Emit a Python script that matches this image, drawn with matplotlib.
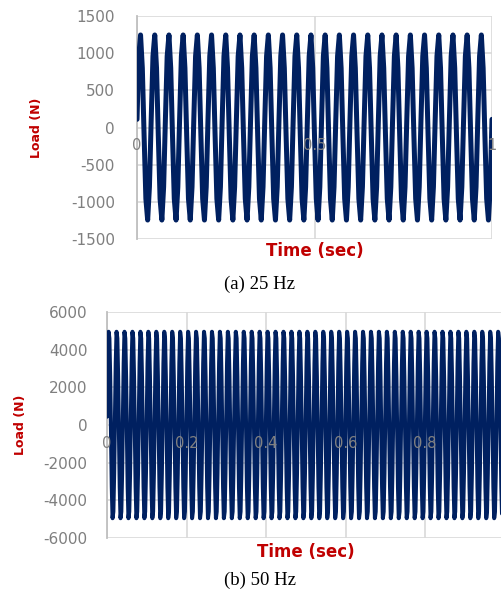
import numpy as np
import matplotlib
matplotlib.use('Agg')
import matplotlib.pyplot as plt

plt.rcParams['axes.unicode_minus'] = False

cycle_25 = [110, 960, 1245, 800, -110, -960, -1245, -800]   # 8 samples / cycle
cycle_50 = [440, 3280, 4950, 4600, 2580, -440, -3280, -4950, -4600, -2580]  # 10 samples / cycle
cycles_25 = 25   # cycles shown in 1 s
cycles_50 = 50

yticks_25 = [-1500, -1000, -500, 0, 500, 1000, 1500]
yticks_50 = [-6000, -4000, -2000, 0, 2000, 4000, 6000]
xticks_25 = [0, 0.5, 1]
xticks_50 = [0, 0.2, 0.4, 0.6, 0.8, 1]
xlabels_25 = ['0', '0.5', '1']
xlabels_50 = ['0', '0.2', '0.4', '0.6', '0.8', '']   # "1" falls off the cropped edge

navy = '#002060'
red = '#c00000'
grid = '#d9d9d9'

def series(cycle, n):
    load = np.tile(cycle, n)
    load = np.append(load, cycle[0])
    t = np.linspace(0, 1, len(load))
    return t, load

fig = plt.figure(figsize=(5.01, 5.92), dpi=100)
W, H = 501, 592

def panel(rect, cycle, n, yticks, xticks, xlabels, lw, ypad, xl_y, caption, cap_y):
    l, t_, r, b = rect
    ax = fig.add_axes([l / W, 1 - b / H, (r - l) / W, (b - t_) / H])
    t, load = series(cycle, n)
    ax.plot(t, load, color=navy, lw=lw, solid_joinstyle='round', solid_capstyle='round', zorder=3)
    ax.set_xlim(0, 1)
    ax.set_ylim(yticks[0], yticks[-1])
    ax.set_yticks(yticks)
    ax.set_xticks(xticks)
    ax.set_xticklabels([])
    ax.grid(True, color=grid, lw=1.2)
    ax.set_axisbelow(True)
    for s in ['top', 'right', 'bottom']:
        ax.spines[s].set_visible(False)
    ax.spines['left'].set_color('#bfbfbf')
    ax.spines['left'].set_linewidth(1.3)
    ax.tick_params(axis='both', length=0)
    ax.tick_params(axis='y', pad=ypad, labelsize=11, labelcolor='#7f7f7f')
    # x labels sit on the zero line, over the trace
    for x, s in zip(xticks, xlabels):
        ax.annotate(s, (x, 0), xytext=(0, -13), textcoords='offset points',
                    ha='center', va='center', fontsize=10.5, color='#808080', zorder=5,
                    annotation_clip=False)
    ax.set_ylabel('Load (N)', color=red, fontweight='bold', fontsize=9)
    ax.text(0.5, xl_y, 'Time (sec)', transform=ax.transAxes, ha='center', va='center',
            color=red, fontweight='bold', fontsize=12)
    fig.text(260 / W, 1 - cap_y / H, caption, ha='center', va='center',
             family='Liberation Serif', fontsize=13.5)
    return ax

ax1 = panel((137, 16, 492, 239), cycle_25, cycles_25, yticks_25, xticks_25, xlabels_25,
            3.6, 16, -0.054, '(a) 25 Hz', 284)
ax1.yaxis.set_label_coords(-0.265, 0.5)
ax2 = panel((107, 312, 504.5, 538), cycle_50, cycles_50, yticks_50, xticks_50, xlabels_50,
            2.9, 14, -0.062, '(b) 50 Hz', 580)
ax2.yaxis.set_label_coords(-0.2, 0.5)

fig.savefig('out.png', dpi=100)
